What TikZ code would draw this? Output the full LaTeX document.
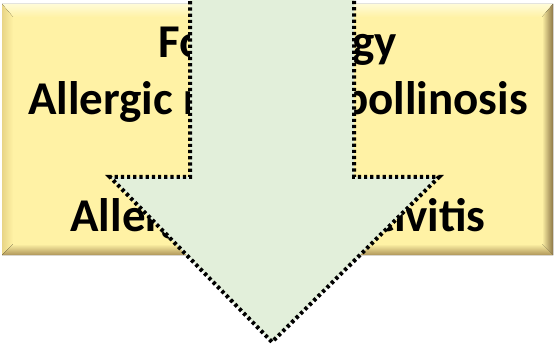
\documentclass[tikz,border=0pt]{standalone}
\usepackage{fontspec}
\setmainfont{Carlito}
\usetikzlibrary{calc}
\definecolor{boxbase}{RGB}{255,242,165}
\definecolor{boxlight}{RGB}{255,251,215}
\definecolor{boxleft}{RGB}{246,228,145}
\definecolor{boxdark}{RGB}{140,118,70}
\definecolor{boxbot}{RGB}{175,150,90}
\definecolor{arrowfill}{RGB}{226,239,218}
\tikzset{
  txt/.style={font=\bfseries\fontsize{47pt}{55pt}\selectfont, anchor=base, inner sep=0pt},
  arrowshape/.style={fill=arrowfill, draw=black, line width=4pt, dash pattern=on 3.2pt off 3pt, line join=miter}
}
\begin{document}
\begin{tikzpicture}[x=1pt,y=1pt]
\useasboundingbox (0,0) rectangle (554,343);
% bevelled box
\coordinate (o1) at (2,88);
\coordinate (o2) at (553,339);
\coordinate (i1) at (13,99);
\coordinate (i2) at (542,326);
\fill[boxbase] (o1) rectangle (o2);
\fill[top color=boxlight, bottom color=boxbase] (2,339) -- (553,339) -- (542,326) -- (13,326) -- cycle;
\fill[left color=boxleft!80!boxbot, right color=boxbase] (2,88) -- (13,99) -- (13,326) -- (2,339) -- cycle;
\fill[left color=boxbase, right color=boxdark] (553,88) -- (553,339) -- (542,326) -- (542,99) -- cycle;
\fill[top color=boxbase, bottom color=boxbot] (2,88) -- (553,88) -- (542,99) -- (13,99) -- cycle;
\fill[boxbase] (i1) rectangle (i2);
% text
\node[txt] (t1) at (278,285) {Food allergy};
\node[txt] (t2) at (278,228) {Allergic rhinitis, pollinosis};
\node[txt] (t4) at (278,111) {Allergic conjunctivitis};
% arrow
\draw[arrowshape] (190,348) -- (190,166) -- (110,166) -- (272,1) -- (439,166) -- (354,166) -- (354,348);
\end{tikzpicture}
\end{document}
